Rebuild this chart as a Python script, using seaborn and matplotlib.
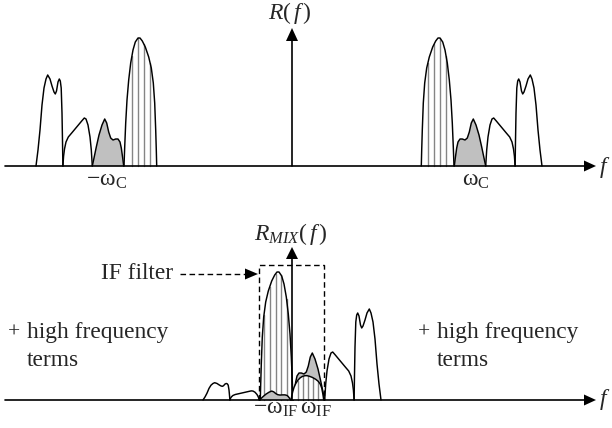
import numpy as np
import matplotlib
matplotlib.use("Agg")
import matplotlib.pyplot as plt
import seaborn as sns

# ---- spectral lobe profiles (left half of R(f), pixel x, height above axis) ----
lobe_a_x = [36, 38, 40, 42, 44, 46, 47.7, 50, 52, 54, 55.3, 56.5, 58, 59.3, 60.3, 61.2, 62, 62.5, 62.9]
lobe_a_h = [0, 16, 36, 61, 78, 87, 91, 87, 80, 74, 72, 75, 84, 87, 85, 78, 53, 25, 0]

lobe_b_x = [62.9, 63.6, 64.5, 66, 68.3, 71.7, 76.7, 81.7, 84.3, 86, 88, 90, 91.3, 92.3]
lobe_b_h = [0, 10, 17, 24, 29, 33, 39, 45, 48, 47, 41, 29, 16, 0]

lobe_c_x = [92.3, 94, 96.3, 99, 102, 104.7, 106.7, 108.7, 110.7, 113, 115.7, 118, 120, 121.3, 122.7, 123.7]
lobe_c_h = [0, 8, 19, 31, 41, 47, 43, 34, 28, 26, 27, 27, 24, 18, 8, 0]

lobe_d_x = [124, 124.7, 125.7, 127, 128.7, 130.7, 133, 135.3, 138, 140, 142.3, 145.3, 148.7,
            151.3, 153.3, 154.7, 155.7, 156.3, 156.7]
lobe_d_h = [0, 19, 43, 66, 86, 103, 116, 124, 128, 128, 125, 119, 109, 98, 83, 63, 36, 16, 0]

# hatching lines of the desired-signal lobe (pixel x)
stripes_top_left = [132, 138, 144, 150]
stripes_top_right = [428, 434, 440, 446]
stripes_bot_strong = [264, 269.5, 275.5, 281, 286.5]
stripes_bot_weak = [297.5, 302.5, 308, 313, 318]

# ---- layout constants (pixels) ----
W, H = 612, 428
TOP_BASE, BOT_BASE = 166, 400
MIRROR = 578          # right top spectrum = mirror image
BOT_SHIFT = 417       # mixed spectrum: mirrored image shifted down to IF
SMALL_SHIFT = 167     # image of the left spectrum (attenuated)
SMALL_SCALE = 0.19
AXIS_X = 292
GRAY = "#c0c0c0"
STRIPE = "#858585"

sns.set_theme(style="white")
plt.rcParams["font.family"] = ["Liberation Serif", "DejaVu Serif"]
plt.rcParams["mathtext.fontset"] = "custom"
plt.rcParams["mathtext.rm"] = "Liberation Serif"
plt.rcParams["mathtext.it"] = "Liberation Serif:italic"
plt.rcParams["mathtext.bf"] = "Liberation Serif:bold"

fig = plt.figure(figsize=(W / 100, H / 100), dpi=100)
ax = fig.add_axes([0, 0, 1, 1])
ax.set_xlim(0, W)
ax.set_ylim(H, 0)


def draw_lobe(xs, hs, base, fill="white", stripes=None, z=2):
    xs = np.asarray(xs, float)
    ys = base - np.asarray(hs, float)
    ax.fill(xs, ys, color=fill, zorder=z, lw=0)
    if stripes is not None:
        order = np.argsort(xs)
        for sx in stripes:
            top = np.interp(sx, xs[order], ys[order])
            ax.plot([sx, sx], [base, top], color=STRIPE, lw=1.0, zorder=z + 0.1)
    sns.lineplot(x=xs, y=ys, sort=False, estimator=None, color="black",
                 lw=1.05, ax=ax, zorder=z + 0.2)


lobes = [
    (lobe_a_x, lobe_a_h, "white", False),
    (lobe_b_x, lobe_b_h, "white", False),
    (lobe_c_x, lobe_c_h, GRAY, False),
    (lobe_d_x, lobe_d_h, "white", True),
]

# top spectrum: left and mirrored right side
for xs, hs, fc, st in lobes:
    draw_lobe(xs, hs, TOP_BASE, fc, stripes_top_left if st else None)
    draw_lobe([MIRROR - v for v in xs], hs, TOP_BASE, fc,
              stripes_top_right if st else None)

# bottom spectrum: strong image
for xs, hs, fc, st in lobes:
    draw_lobe([BOT_SHIFT - v for v in xs], hs, BOT_BASE, fc,
              stripes_bot_strong if st else None, z=2)
# bottom spectrum: weak image on top
for xs, hs, fc, st in lobes:
    draw_lobe([v + SMALL_SHIFT for v in xs], [h * SMALL_SCALE for h in hs], BOT_BASE, fc,
              stripes_bot_weak if st else None, z=4)

# ---- axes with arrows ----
for base in (TOP_BASE, BOT_BASE):
    ax.plot([5, 585], [base, base], color="black", lw=1.2, zorder=6)
    ax.fill([584, 584, 596], [base - 5.5, base + 5.5, base], color="black", zorder=6, lw=0)
ax.plot([AXIS_X, AXIS_X], [TOP_BASE, 40], color="black", lw=1.2, zorder=6)
ax.fill([AXIS_X - 6, AXIS_X + 6, AXIS_X], [41, 41, 28], color="black", zorder=6, lw=0)
ax.plot([AXIS_X, AXIS_X], [BOT_BASE, 258], color="black", lw=1.2, zorder=6)
ax.fill([AXIS_X - 6, AXIS_X + 6, AXIS_X], [259, 259, 247], color="black", zorder=6, lw=0)

# IF filter box and pointer
dash = (0, (4, 2.5))
ax.plot([259, 259, 323.5, 323.5], [BOT_BASE, 265, 265, BOT_BASE], color="black",
        lw=1.0, ls=dash, zorder=7)
ax.plot([180, 247], [274, 274], color="black", lw=1.0, ls=dash, zorder=7)
ax.fill([245, 245, 258], [268.5, 279.5, 274], color="black", zorder=7, lw=0)

# ---- text ----
fs = 17
ax.text(290, 19, r"$R(\,f\,)$", ha="center", va="baseline", fontsize=fs)
ax.text(291, 240, r"$R_{MIX}(\,f\,)$", ha="center", va="baseline", fontsize=fs)
ax.text(107, 186, r"$-\mathrm{\omega}_{\mathrm{C}}$", ha="center", va="baseline", fontsize=fs)
ax.text(476, 186, r"$\mathrm{\omega}_{\mathrm{C}}$", ha="center", va="baseline", fontsize=fs)
ax.text(276, 414, r"$-\mathrm{\omega}_{\mathrm{IF}}$", ha="center", va="baseline", fontsize=fs)
ax.text(316, 414, r"$\mathrm{\omega}_{\mathrm{IF}}$", ha="center", va="baseline", fontsize=fs)
ax.text(599, 173, r"$f$", ha="left", va="baseline", fontsize=17)
ax.text(599, 405, r"$f$", ha="left", va="baseline", fontsize=17)
ax.text(173, 279, "IF filter", ha="right", va="baseline", fontsize=16.8)
for x0 in (8, 418):
    ax.text(x0, 338, "+", ha="left", va="baseline", fontsize=15.5)
    ax.text(x0 + 19, 338, "high frequency", ha="left", va="baseline", fontsize=16.8)
    ax.text(x0 + 19, 366, "terms", ha="left", va="baseline", fontsize=16.8)

ax.set_axis_off()
fig.savefig("out.png", dpi=100, facecolor="white")
